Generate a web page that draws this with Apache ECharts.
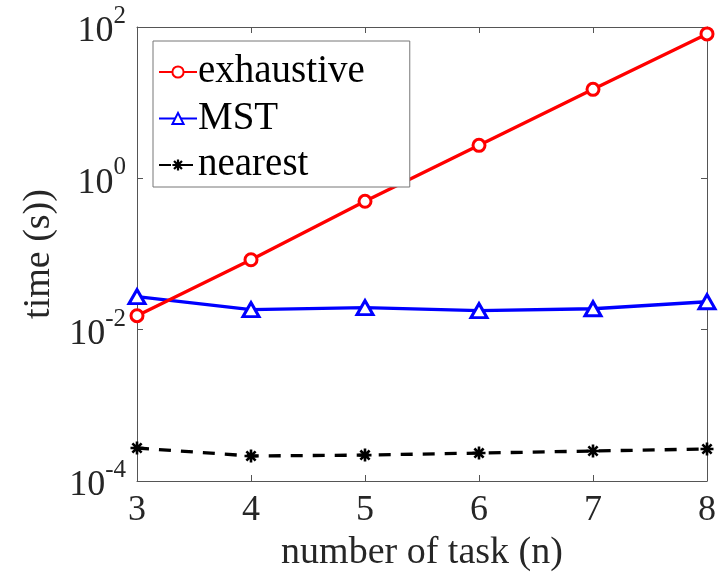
<!DOCTYPE html>
<html><head><meta charset="utf-8">
<script src="https://cdn.jsdelivr.net/npm/echarts@6/dist/echarts.min.js"></script>
<style>html,body{margin:0;padding:0;background:#fff}#c{width:720px;height:577px}</style>
</head><body><div id="c"></div>
<script>
const tasks = [3, 4, 5, 6, 7, 8];
const exhaustive = [0.0153, 0.084, 0.497, 2.73, 15.0, 81];
const mst = [0.0273, 0.0184, 0.0195, 0.0178, 0.0189, 0.0234];
const nearest = [2.73e-4, 2.14e-4, 2.2e-4, 2.34e-4, 2.49e-4, 2.65e-4];
const seriesNames = ['exhaustive', 'MST', 'nearest'];
const xTitle = 'number of task (n)';
const yTitle = 'time (s))';

const font = 'Liberation Serif, Times New Roman, serif';
const asterisk = 'path://M-1.2,-6L1.2,-6L1.2,6L-1.2,6Z M-6,-1.2L6,-1.2L6,1.2L-6,1.2Z M-5.1,-3.4L-3.4,-5.1L5.1,3.4L3.4,5.1Z M3.4,-5.1L5.1,-3.4L-3.4,5.1L-5.1,3.4Z';
const pair = a => tasks.map((t, i) => [t, a[i]]);
const axisCol = '#555';
const txtCol = '#262626';

const chart = echarts.init(document.getElementById('c'), null, {renderer: 'canvas'});
chart.setOption({
  animation: false,
  backgroundColor: '#fff',
  grid: {left: 137, right: 13, top: 27, bottom: 96, containLabel: false},
  xAxis: [{
    type: 'value', min: 3, max: 8, interval: 1,
    name: xTitle, nameLocation: 'middle', nameGap: 36,
    nameTextStyle: {fontFamily: font, fontSize: 38, color: txtCol},
    axisLine: {lineStyle: {color: axisCol, width: 1}},
    axisTick: {inside: true, length: 6, lineStyle: {color: axisCol}},
    axisLabel: {fontFamily: font, fontSize: 36, color: txtCol, margin: 12},
    splitLine: {show: false}
  }, {
    type: 'value', min: 3, max: 8, interval: 1, position: 'top',
    axisLine: {show: true, lineStyle: {color: axisCol, width: 1}},
    axisTick: {inside: true, length: 6, lineStyle: {color: axisCol}},
    axisLabel: {show: false}, splitLine: {show: false}
  }],
  yAxis: [{
    type: 'log', logBase: 10, min: 1e-4, max: 100, interval: 2,
    name: yTitle, nameLocation: 'middle', nameGap: 76, nameRotate: 90,
    nameTextStyle: {fontFamily: font, fontSize: 38, color: txtCol},
    axisLine: {show: true, lineStyle: {color: axisCol, width: 1}},
    axisTick: {inside: true, length: 6, lineStyle: {color: axisCol}},
    minorTick: {show: false},
    axisLabel: {
      margin: 11,
      formatter: v => '{b|10}{s|' + Math.round(Math.log10(v)) + '}',
      rich: {
        b: {fontFamily: font, fontSize: 36, color: txtCol, verticalAlign: 'bottom', lineHeight: 46},
        s: {fontFamily: font, fontSize: 25, color: txtCol, verticalAlign: 'top', lineHeight: 46}
      }
    },
    splitLine: {show: false}
  }, {
    type: 'log', logBase: 10, min: 1e-4, max: 100, interval: 2, position: 'right',
    axisLine: {show: true, lineStyle: {color: axisCol, width: 1}},
    axisTick: {inside: true, length: 6, lineStyle: {color: axisCol}},
    axisLabel: {show: false}, splitLine: {show: false}
  }],
  legend: {
    show: true, orient: 'vertical', left: 153, top: 41,
    padding: [11, 45, 2, 5],
    backgroundColor: '#fff', borderColor: '#777', borderWidth: 1,
    itemWidth: 38, itemHeight: 14, itemGap: 6.5,
    textStyle: {fontFamily: font, fontSize: 39, lineHeight: 40, color: '#000', padding: [0, 0, 0, -4]},
    data: seriesNames
  },
  series: [{
    name: seriesNames[0], type: 'line', data: pair(exhaustive),
    symbol: 'circle', symbolSize: 12,
    itemStyle: {color: '#fff', borderColor: '#ff0000', borderWidth: 3},
    lineStyle: {color: '#ff0000', width: 3.3}, z: 3
  }, {
    name: seriesNames[1], type: 'line', data: pair(mst),
    symbol: 'triangle', symbolSize: [16, 14],
    itemStyle: {color: '#fff', borderColor: '#0000ff', borderWidth: 3},
    lineStyle: {color: '#0000ff', width: 3.3}, z: 2
  }, {
    name: seriesNames[2], type: 'line', data: pair(nearest),
    symbol: asterisk, symbolSize: 13,
    itemStyle: {color: '#000', borderColor: '#000', borderWidth: 0},
    lineStyle: {color: '#000', width: 3.3, type: [12, 10]}, z: 2
  }]
});
</script></body></html>
